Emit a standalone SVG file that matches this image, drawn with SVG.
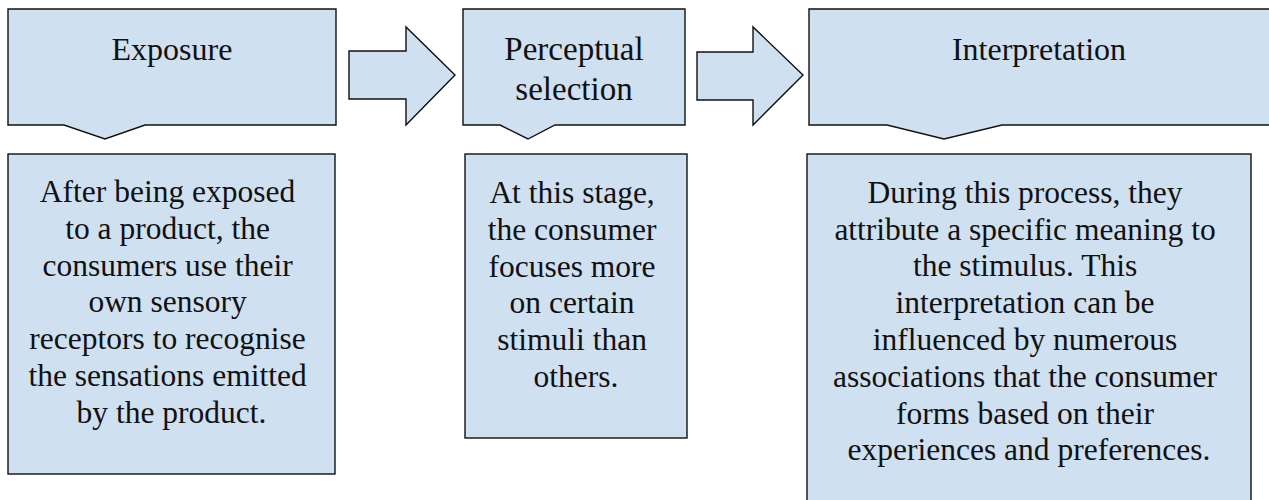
<svg xmlns="http://www.w3.org/2000/svg" width="1269" height="500" viewBox="0 0 1269 500">
<style>
.box{fill:#cfe0f1;stroke:#111;stroke-width:1.4;stroke-linejoin:miter}
text{font-family:'Liberation Serif','Times New Roman',serif;fill:#111;text-anchor:middle}
.h{font-size:32px}
.hp{font-size:33px}
.b{font-size:31.5px}
</style>
<rect width="1269" height="500" fill="#fff"/>
<g id="connectors">
<path class="box" d="M349,51 H406 V27 L455,75 L406,125 V99 H349 Z"/>
<path class="box" d="M697,52 H753 V27 L803,75 L753,125 V100 H697 Z"/>
</g>
<g id="exposure">
<path class="box" d="M8,9 H336 V125 H145 L105,139 L64,125 H8 Z"/>
<text class="h" x="172" y="60">Exposure</text>
</g>
<g id="perceptual">
<path class="box" d="M463,9 H685 V125 H555 L528,139 L500,125 H463 Z"/>
<text class="hp" x="574" y="60">Perceptual</text>
<text class="hp" x="574" y="100">selection</text>
</g>
<g id="interpretation">
<path class="box" d="M809,9 H1275 V125 H1002 L944,139 L887,125 H809 Z"/>
<text class="h" x="1039" y="60">Interpretation</text>
</g>
<g id="exposure-desc">
<rect class="box" x="8" y="154" width="327" height="320"/>
<text class="b" x="171.5">
<tspan x="171.5" y="201.7">After being exposed</tspan>
<tspan x="171.5" y="238.6">to a product, the</tspan>
<tspan x="171.5" y="275.5">consumers use their</tspan>
<tspan x="171.5" y="312.4">own sensory</tspan>
<tspan x="171.5" y="349.3">receptors to recognise</tspan>
<tspan x="171.5" y="386.2">the sensations emitted</tspan>
<tspan x="171.5" y="423.1">by the product.</tspan>
</text>
</g>
<g id="perceptual-desc">
<rect class="box" x="465" y="154" width="222" height="284"/>
<text class="b" x="576">
<tspan x="576" y="202.7">At this stage,</tspan>
<tspan x="576" y="239.6">the consumer</tspan>
<tspan x="576" y="276.5">focuses more</tspan>
<tspan x="576" y="313.4">on certain</tspan>
<tspan x="576" y="350.3">stimuli than</tspan>
<tspan x="576" y="387.2">others.</tspan>
</text>
</g>
<g id="interpretation-desc">
<rect class="box" x="807" y="154" width="444" height="360"/>
<text class="b" x="1029">
<tspan x="1029" y="202.7">During this process, they</tspan>
<tspan x="1029" y="239.5">attribute a specific meaning to</tspan>
<tspan x="1029" y="276.3">the stimulus. This</tspan>
<tspan x="1029" y="313.1">interpretation can be</tspan>
<tspan x="1029" y="349.9">influenced by numerous</tspan>
<tspan x="1029" y="386.7">associations that the consumer</tspan>
<tspan x="1029" y="423.5">forms based on their</tspan>
<tspan x="1029" y="460.3">experiences and preferences.</tspan>
</text>
</g>
</svg>
